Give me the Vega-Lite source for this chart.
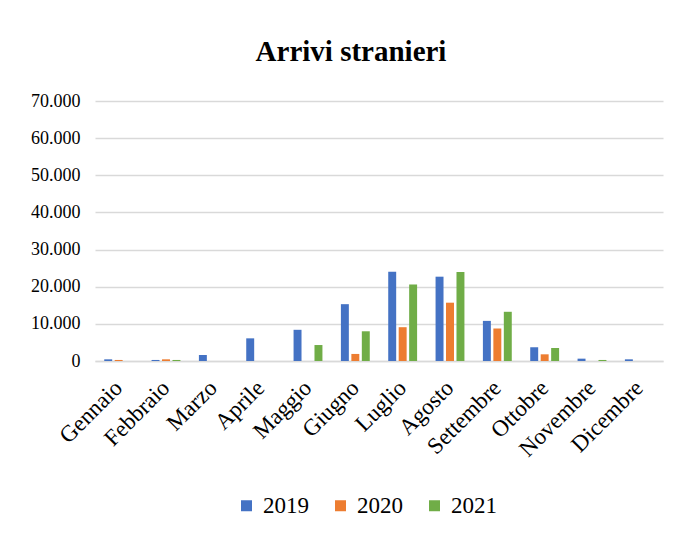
{
  "$schema": "https://vega.github.io/schema/vega-lite/v6.json",
  "width": 568,
  "height": 260,
  "autosize": {"type": "none"},
  "padding": {"left": 95, "top": 101, "right": 16, "bottom": 175},
  "background": "white",
  "title": {
    "text": "Arrivi stranieri",
    "font": "Liberation Serif",
    "fontSize": 29,
    "fontWeight": "bold",
    "color": "#000000",
    "anchor": "middle",
    "frame": "group",
    "baseline": "alphabetic",
    "dx": -28,
    "offset": 2
  },
  "data": {
    "values": [
      {"mese": "Gennaio", "anno": "2019", "arrivi": 450},
      {"mese": "Gennaio", "anno": "2020", "arrivi": 280},
      {"mese": "Gennaio", "anno": "2021", "arrivi": 0},
      {"mese": "Febbraio", "anno": "2019", "arrivi": 280},
      {"mese": "Febbraio", "anno": "2020", "arrivi": 450},
      {"mese": "Febbraio", "anno": "2021", "arrivi": 280},
      {"mese": "Marzo", "anno": "2019", "arrivi": 1620},
      {"mese": "Marzo", "anno": "2020", "arrivi": 0},
      {"mese": "Marzo", "anno": "2021", "arrivi": 0},
      {"mese": "Aprile", "anno": "2019", "arrivi": 6100},
      {"mese": "Aprile", "anno": "2020", "arrivi": 0},
      {"mese": "Aprile", "anno": "2021", "arrivi": 0},
      {"mese": "Maggio", "anno": "2019", "arrivi": 8400},
      {"mese": "Maggio", "anno": "2020", "arrivi": 0},
      {"mese": "Maggio", "anno": "2021", "arrivi": 4300},
      {"mese": "Giugno", "anno": "2019", "arrivi": 15300},
      {"mese": "Giugno", "anno": "2020", "arrivi": 1900},
      {"mese": "Giugno", "anno": "2021", "arrivi": 8000},
      {"mese": "Luglio", "anno": "2019", "arrivi": 24050},
      {"mese": "Luglio", "anno": "2020", "arrivi": 9100},
      {"mese": "Luglio", "anno": "2021", "arrivi": 20600},
      {"mese": "Agosto", "anno": "2019", "arrivi": 22700},
      {"mese": "Agosto", "anno": "2020", "arrivi": 15700},
      {"mese": "Agosto", "anno": "2021", "arrivi": 23950},
      {"mese": "Settembre", "anno": "2019", "arrivi": 10800},
      {"mese": "Settembre", "anno": "2020", "arrivi": 8750},
      {"mese": "Settembre", "anno": "2021", "arrivi": 13250},
      {"mese": "Ottobre", "anno": "2019", "arrivi": 3700},
      {"mese": "Ottobre", "anno": "2020", "arrivi": 1800},
      {"mese": "Ottobre", "anno": "2021", "arrivi": 3500},
      {"mese": "Novembre", "anno": "2019", "arrivi": 630},
      {"mese": "Novembre", "anno": "2020", "arrivi": 0},
      {"mese": "Novembre", "anno": "2021", "arrivi": 280},
      {"mese": "Dicembre", "anno": "2019", "arrivi": 450},
      {"mese": "Dicembre", "anno": "2020", "arrivi": 0},
      {"mese": "Dicembre", "anno": "2021", "arrivi": 0}
    ]
  },
  "mark": {"type": "bar"},
  "encoding": {
    "x": {
      "field": "mese",
      "type": "nominal",
      "sort": ["Gennaio", "Febbraio", "Marzo", "Aprile", "Maggio", "Giugno", "Luglio", "Agosto", "Settembre", "Ottobre", "Novembre", "Dicembre"],
      "scale": {"paddingInner": 0.39, "paddingOuter": 0.195},
      "axis": {
        "title": null,
        "labelAngle": -45,
        "labelAlign": "right",
        "labelBaseline": "middle",
        "labelFont": "Liberation Serif",
        "labelFontSize": 23,
        "labelColor": "#000000",
        "labelPadding": 23,
        "ticks": false,
        "domain": true,
        "domainColor": "#d9d9d9",
        "domainWidth": 1.5,
        "grid": false
      }
    },
    "xOffset": {
      "field": "anno",
      "type": "nominal",
      "scale": {"paddingInner": 0.24, "paddingOuter": 0}
    },
    "y": {
      "field": "arrivi",
      "type": "quantitative",
      "scale": {"domain": [0, 70000]},
      "axis": {
        "title": null,
        "values": [0, 10000, 20000, 30000, 40000, 50000, 60000, 70000],
        "labelExpr": "replace(format(datum.value, ','), ',', '.')",
        "labelFont": "Liberation Serif",
        "labelFontSize": 18,
        "labelColor": "#000000",
        "labelPadding": 15,
        "ticks": false,
        "domain": false,
        "grid": true,
        "gridColor": "#d9d9d9",
        "gridWidth": 1.3
      }
    },
    "color": {
      "field": "anno",
      "type": "nominal",
      "scale": {"domain": ["2019", "2020", "2021"], "range": ["#4472C4", "#ED7D31", "#70AD47"]},
      "legend": {
        "title": null,
        "orient": "none",
        "direction": "horizontal",
        "legendX": 140,
        "legendY": 393,
        "padding": 0,
        "symbolType": "square",
        "symbolSize": 121,
        "symbolStrokeWidth": 0,
        "labelFont": "Liberation Serif",
        "labelFontSize": 23,
        "labelColor": "#000000",
        "labelOffset": 5,
        "columnPadding": 20,
        "encode": {
          "labels": {"update": {"font": {"value": "Liberation Serif"}, "fontSize": {"value": 23}}}
        }
      }
    }
  },
  "config": {
    "view": {"stroke": null},
    "font": "Liberation Serif"
  }
}
